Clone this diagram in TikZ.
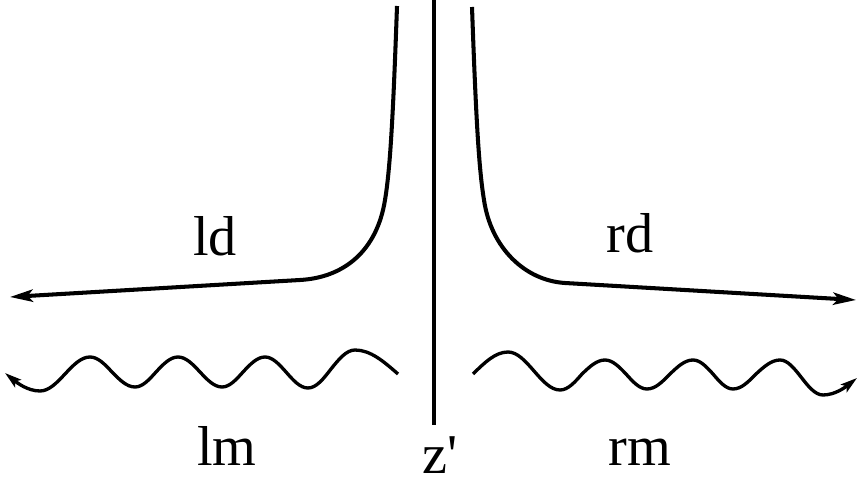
\documentclass[tikz,border=0pt]{standalone}
\usepackage{fontspec}
\setmainfont{Liberation Serif}
\usetikzlibrary{arrows.meta}

\begin{document}
\begin{tikzpicture}[
  x=0.02cm,y=-0.02cm,
  wall/.style={line width=2.8pt},
  flow/.style={line width=2.3pt,-{Stealth[length=13pt,width=7pt,inset=3pt]}},
  wave/.style={line width=1.9pt,-{Stealth[length=9.5pt,width=5.5pt,inset=2pt]}},
  lab/.style={font=\fontsize{32}{36}\selectfont,anchor=base,inner sep=0pt,text depth=0pt}
]
  \useasboundingbox (0,0) rectangle (858,482);
  % centre line
  \coordinate (top) at (434,0);
  \coordinate (bot) at (434,425);
  \draw[wall] (top) -- (bot);
  % deflected flows
  \coordinate (ltop) at (397,6);
  \coordinate (lend) at (10,297);
  \coordinate (rtop) at (472,7);
  \coordinate (rend) at (856,300);
  \draw[flow] (ltop) .. controls (393,120) and (390,170) .. (385,200)
    .. controls (377,250) and (345,277.5) .. (300,280) -- (lend);
  \draw[flow] (rtop) .. controls (476,120) and (479,170) .. (484,200)
    .. controls (491,248) and (525,280.5) .. (565,283) -- (rend);
  % waves
  \coordinate (lw) at (398,374);
  \coordinate (lwend) at (5,373);
  \coordinate (rw) at (473,374);
  \coordinate (rwend) at (857,378);
  \draw[wave] (lw) sin (355,350) cos (331,369) sin (308,388) cos (286,372)
    sin (265,357) cos (243,372) sin (222,387) cos (200,372) sin (178,357)
    cos (156,372) sin (135,387) cos (112,372) sin (90,357) cos (65,374)
    sin (40,391) cos (lwend);
  \draw[wave] (rw) sin (508,352) cos (534,371) sin (560,390) cos (582,374)
    sin (605,360) cos (626,374) sin (647,389) cos (670,374) sin (693,360)
    cos (713,374) sin (733,389) cos (756,374) sin (780,360) cos (801,377)
    sin (823,395) cos (rwend);
  % labels
  \node[lab] (ld) at (215,256) {ld};
  \node[lab] (rd) at (630,253) {rd};
  \node[lab] (lm) at (227,465) {lm};
  \node[lab] (zl) at (440,473) {z\textquotesingle};
  \node[lab] (rm) at (640,465) {rm};
\end{tikzpicture}
\end{document}
